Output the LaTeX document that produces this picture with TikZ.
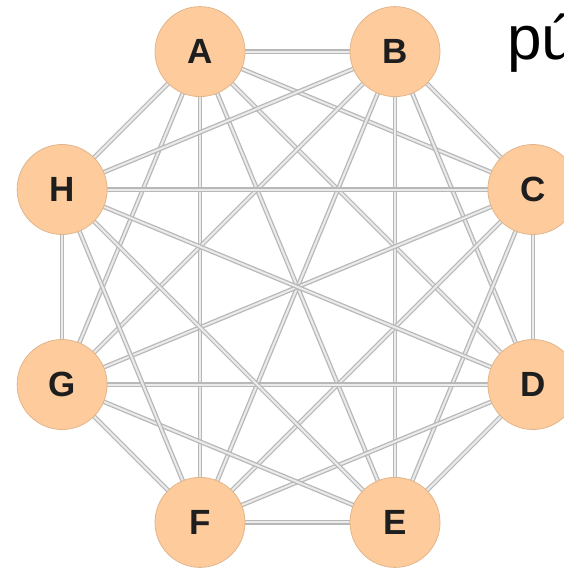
\documentclass[tikz,border=0pt]{standalone}
\usepackage{fontspec}
\setmainfont{Liberation Sans}
\usetikzlibrary{calc}
\definecolor{nodefill}{HTML}{FDCB9C}
\definecolor{nodeborder}{HTML}{E2B68C}
\definecolor{edgecol}{HTML}{B8B8B8}
\definecolor{edgein}{HTML}{EBEBEB}
\definecolor{lettercol}{HTML}{1E1E1E}
\tikzset{
  vertex/.style={circle, fill=nodefill, draw=nodeborder, line width=0.8pt, minimum size=90pt, inner sep=0pt,
    font=\fontsize{35}{35}\selectfont\bfseries, text=lettercol},
  edge/.style={draw=edgecol, line width=1.3pt, double=edgein, double distance=2pt},
}
\begin{document}
\begin{tikzpicture}[x=1pt,y=-1pt]
\useasboundingbox (0,0) rectangle (564,570);
\coordinate (O) at (297.5,287);
\foreach \n/\a in {A/112.5,B/67.5,C/22.5,D/-22.5,E/-67.5,F/-112.5,G/-157.5,H/157.5}{
  \coordinate (p\n) at ($(O)+({254.8*cos(\a)},{-254.8*sin(\a)})$);
}
\foreach \u/\v in {A/B,A/C,A/D,A/E,A/F,A/G,A/H,B/C,B/D,B/E,B/F,B/G,B/H,C/D,C/E,C/F,C/G,C/H,D/E,D/F,D/G,D/H,E/F,E/G,E/H,F/G,F/H,G/H}{
  \draw[edge] (p\u) -- (p\v);
}
\foreach \n in {A,B,C,D,E,F,G,H}{
  \node[vertex] (\n) at (p\n) {\n};
}
\node[anchor=base west, inner sep=0pt, font=\fontsize{62}{62}\selectfont, text=black] (title) at (507,59) {pú};
\end{tikzpicture}
\end{document}
